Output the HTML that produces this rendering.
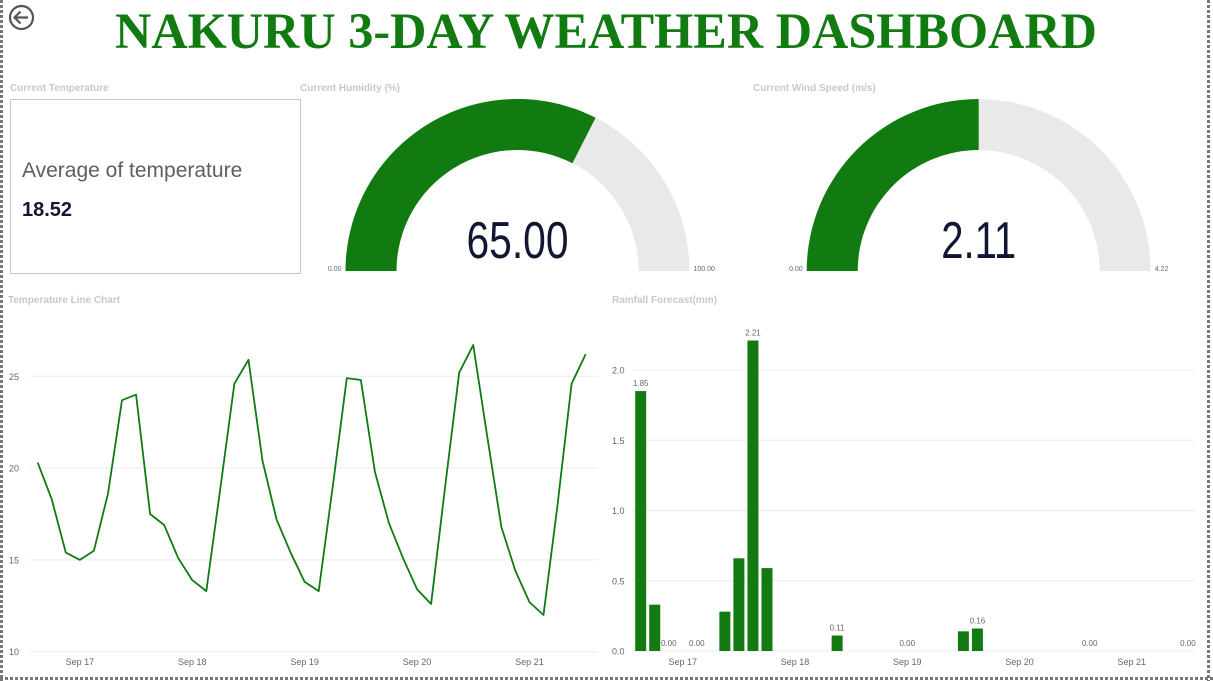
<!DOCTYPE html>
<html><head><meta charset="utf-8"><style>
html,body{margin:0;padding:0;background:#fff;}
svg{display:block;font-family:"Liberation Sans",sans-serif;}
</style></head><body>
<svg id="dash" width="1213" height="681" viewBox="0 0 1213 681" xmlns="http://www.w3.org/2000/svg">
<line x1="1.5" y1="0" x2="1.5" y2="681" stroke="#777" stroke-width="3" stroke-dasharray="3,2"/>
<line x1="1208.5" y1="0" x2="1208.5" y2="681" stroke="#777" stroke-width="3" stroke-dasharray="3,2"/>
<line x1="0" y1="678.5" x2="1213" y2="678.5" stroke="#777" stroke-width="3" stroke-dasharray="3,2"/>
<g>
<circle cx="21.5" cy="17.5" r="11.5" fill="none" stroke="#555" stroke-width="2.2"/>
<path d="M28 17.5H15M20.5 11.5L14.5 17.5L20.5 23.5" fill="none" stroke="#555" stroke-width="2.2"/>
</g>
<text x="115" y="48" font-family="'Liberation Serif',serif" font-weight="bold" font-size="51" fill="#117a11" textLength="982" lengthAdjust="spacingAndGlyphs">NAKURU 3-DAY WEATHER DASHBOARD</text>

<text x="10" y="91" font-size="10" font-weight="bold" fill="#c8c8c8">Current Temperature</text>
<rect x="10.5" y="99.5" width="290" height="174" fill="#fff" stroke="#c8c8c8"/>
<text x="22" y="177" font-size="21" fill="#605e5c">Average of temperature</text>
<text x="22" y="216" font-size="20" font-weight="bold" fill="#111633">18.52</text>

<text x="300" y="91" font-size="10" font-weight="bold" fill="#c8c8c8">Current Humidity (%)</text>
<g id="g1"></g>
<text x="753" y="91" font-size="10" font-weight="bold" fill="#c8c8c8">Current Wind Speed (m/s)</text>
<g id="g2"></g>

<text x="8" y="303" font-size="10" font-weight="bold" fill="#c8c8c8">Temperature Line Chart</text>
<g id="lc"></g>
<text x="612" y="303" font-size="10" font-weight="bold" fill="#c8c8c8">Rainfall Forecast(mm)</text>
<g id="bc"></g>
</svg>
<script>
const NS="http://www.w3.org/2000/svg";
const humidityValue=65, humidityMax=100;
const windValue=2.11, windMax=4.22;
const temps=[20.3,18.3,15.4,15.0,15.5,18.6,23.7,24.0,17.5,16.9,15.1,13.9,13.3,18.9,24.6,25.9,20.4,17.2,15.4,13.8,13.3,19.0,24.9,24.8,19.8,17.0,15.1,13.4,12.6,19.0,25.2,26.7,21.7,16.8,14.4,12.7,12.0,18.0,24.6,26.2];
const tempTicks=[10,15,20,25];
const rain=[1.85,0.33,0,0,0,0,0.28,0.66,2.21,0.59,0,0,0,0,0.11,0,0,0,0,0,0,0,0,0.14,0.16,0,0,0,0,0,0,0,0,0,0,0,0,0,0,0];
const rainLabelIdx=[0,2,4,8,14,19,24,32,39];
const rainTicks=[0,0.5,1.0,1.5,2.0];
const dayLabels=["Sep 17","Sep 18","Sep 19","Sep 20","Sep 21"];
const dayLabelIdx=[3,11,19,27,35];

function mk(tag,attrs,parent,txt){const e=document.createElementNS(NS,tag);for(const k in attrs)e.setAttribute(k,attrs[k]);if(txt!==undefined)e.textContent=txt;parent.appendChild(e);return e;}
function arcPath(cx,cy,R,r,a0,a1){
  const p=(rad,a)=>[cx-rad*Math.cos(a),cy-rad*Math.sin(a)];
  const [x0,y0]=p(R,a0),[x1,y1]=p(R,a1),[x2,y2]=p(r,a1),[x3,y3]=p(r,a0);
  return `M${x0} ${y0}A${R} ${R} 0 0 1 ${x1} ${y1}L${x2} ${y2}A${r} ${r} 0 0 0 ${x3} ${y3}Z`;
}
function gauge(id,cx,val,max,valTxt,maxTxt,tw){
  const g=document.getElementById(id),cy=271,R=172,r=121;
  const a=Math.PI*val/max;
  const bg=mk("path",{d:arcPath(cx,cy,R,r,0,Math.PI),fill:"#e9e9e9"},g);
  
  
  const fg=mk("path",{d:arcPath(cx,cy,R,r,0,a),fill:"#117a11"},g);
  
  
  const v=mk("text",{x:cx,y:cy-13,"text-anchor":"middle","font-size":"52",fill:"#111633",textLength:tw,lengthAdjust:"spacingAndGlyphs"},g,valTxt);
  
  
  const mn=mk("text",{x:cx-R-4,y:cy,"text-anchor":"end","font-size":"7",fill:"#666"},g,"0.00");
  
  
  const mx=mk("text",{x:cx+R+4,y:cy,"font-size":"7",fill:"#666"},g,maxTxt);
  
  
}
gauge("g1",517.5,humidityValue,humidityMax,humidityValue.toFixed(2),humidityMax.toFixed(2),102);
gauge("g2",978.7,windValue,windMax,windValue.toFixed(2),windMax.toFixed(2),75);

// line chart
(function(){
  const g=document.getElementById("lc");
  const x=i=>37.7+i*14.05, y=v=>651.7-(v-10)*18.36;
  tempTicks.forEach(t=>{
    const l=mk("line",{x1:30,x2:598,y1:y(t),y2:y(t),stroke:"#ececec"},g);
    
    
    const tx=mk("text",{x:9,y:y(t)+3.5,"font-size":"9",fill:"#666"},g,String(t));
    
    
  });
  dayLabels.forEach((d,k)=>{
    const tx=mk("text",{x:x(dayLabelIdx[k]),y:665,"text-anchor":"middle","font-size":"9",fill:"#666"},g,d);
    
    
  });
  const pl=mk("polyline",{points:temps.map((v,i)=>x(i)+","+y(v)).join(" "),fill:"none",stroke:"#117a11","stroke-width":"1.8","stroke-linejoin":"round"},g);
  
  
})();

// bar chart
(function(){
  const g=document.getElementById("bc");
  const x=i=>640.7+i*14.03, y=v=>651-v*140.5;
  rainTicks.forEach(t=>{
    const l=mk("line",{x1:632,x2:1195,y1:y(t),y2:y(t),stroke:"#ececec"},g);
    
    
    const tx=mk("text",{x:612,y:y(t)+3.5,"font-size":"9",fill:"#666"},g,t.toFixed(1));
    
    
  });
  dayLabels.forEach((d,k)=>{
    const tx=mk("text",{x:x(dayLabelIdx[k]),y:665,"text-anchor":"middle","font-size":"9",fill:"#666"},g,d);
    
    
  });
  rain.forEach((v,i)=>{
    if(v>0){
      const b=mk("rect",{x:x(i)-5.5,y:y(v),width:11,height:651-y(v),fill:"#117a11"},g);
      
      
    }
  });
  rainLabelIdx.forEach(i=>{
    const v=rain[i];
    const tx=mk("text",{x:x(i),y:y(v)-5,"text-anchor":"middle","font-size":"8",fill:"#666"},g,v.toFixed(2));
    
    
  });
})();
</script>
</body></html>
